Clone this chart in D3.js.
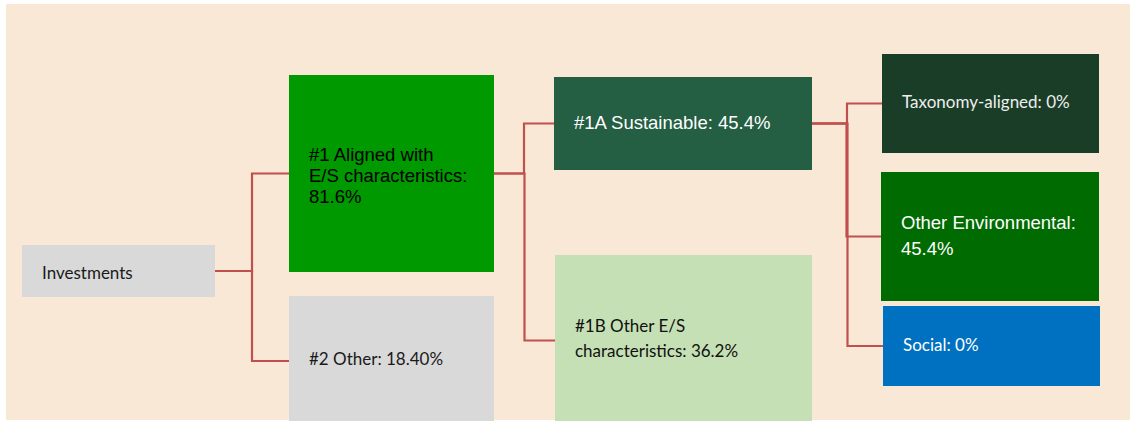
<!DOCTYPE html>
<html>
<head>
<meta charset="utf-8">
<script src="https://cdn.jsdelivr.net/npm/d3@7"></script>
<style>
  body { margin: 0; background: #ffffff; }
</style>
</head>
<body>
<div id="chart"></div>
<script>
// tree data: ids, parents and the label lines shown in each box
const nodeIds = ["inv", "n1", "n2", "n1a", "n1b", "tax", "env", "soc"];
const parentIds = [null, "inv", "inv", "n1", "n1", "n1a", "n1a", "n1a"];
const nodeLabels = [
    ["Investments"],
    ["#1 Aligned with", "E/S characteristics:", "81.6%"],
    ["#2 Other: 18.40%"],
    ["#1A Sustainable: 45.4%"],
    ["#1B Other E/S", "characteristics: 36.2%"],
    ["Taxonomy-aligned: 0%"],
    ["Other Environmental:", "45.4%"],
    ["Social: 0%"]
];

// box geometry and look (layout only)
const box = {
    inv: {x: 22,  y: 245, w: 193, h: 52,  fill: "#d9d9d9", text: "#1a1a1a", font: "calibri", ty: 279, lh: 0},
    n1:  {x: 289, y: 75,  w: 205, h: 197, fill: "#009900", text: "#000000", font: "arial",   ty: 161, lh: 21},
    n2:  {x: 289, y: 296, w: 205, h: 130, fill: "#d9d9d9", text: "#1a1a1a", font: "calibri", ty: 365, lh: 0},
    n1a: {x: 554, y: 77,  w: 258, h: 93,  fill: "#245e43", text: "#ffffff", font: "arial",   ty: 129, lh: 0},
    n1b: {x: 555, y: 255, w: 257, h: 171, fill: "#c5e0b4", text: "#111111", font: "calibri", ty: 332, lh: 25},
    tax: {x: 882, y: 54,  w: 217, h: 99,  fill: "#1a3d28", text: "#eeeeee", font: "calibri", ty: 108, lh: 0},
    env: {x: 881, y: 172, w: 218, h: 129, fill: "#006b00", text: "#ffffff", font: "arial",   ty: 229, lh: 26},
    soc: {x: 883, y: 306, w: 217, h: 80,  fill: "#0070c0", text: "#ffffff", font: "calibri", ty: 351, lh: 0}
};
const fonts = {
    arial:   {family: "'Liberation Sans', Arial, sans-serif", size: "18.5px"},
    calibri: {family: "Lato, 'Open Sans', sans-serif", size: "17px"}
};

const W = 1136, H = 421;

const svg = d3.select("#chart")
    .append("svg")
        .attr("width", W)
        .attr("height", H);

// peach panel
svg.append("rect")
    .attr("x", 6)
    .attr("y", 4)
    .attr("width", 1124)
    .attr("height", 416)
    .attr("fill", "#fae8d7");

const table = nodeIds.map((id, i) => ({id: id, parent: parentIds[i], lines: nodeLabels[i]}));
const root = d3.stratify()
    .id(d => d.id)
    .parentId(d => d.parent)(table);

// elbow connectors: parent right-middle -> junction -> child left-middle
const elbow = function(l) {
    const s = box[l.source.id], t = box[l.target.id];
    const x0 = s.x + s.w, y0 = s.y + s.h / 2;
    const x1 = t.x, y1 = t.y + t.h / 2;
    const xm = (x0 + x1) / 2;
    const p = d3.path();
    p.moveTo(x0, y0);
    p.lineTo(xm, y0);
    p.lineTo(xm, y1);
    p.lineTo(x1, y1);
    return p.toString();
};

svg.selectAll(".link")
    .data(root.links())
    .join("path")
    .attr("class", "link")
    .attr("d", elbow)
    .attr("fill", "none")
    .attr("stroke", "#c0504d")
    .attr("stroke-width", 2.2);

const nodes = svg.selectAll(".node")
    .data(root.descendants())
    .join("g")
    .attr("class", "node");

nodes.append("rect")
    .attr("x", d => box[d.id].x)
    .attr("y", d => box[d.id].y)
    .attr("width", d => box[d.id].w)
    .attr("height", d => box[d.id].h)
    .attr("fill", d => box[d.id].fill);

nodes.each(function(d) {
    const b = box[d.id], f = fonts[b.font];
    const t = d3.select(this).append("text")
        .attr("font-family", f.family)
        .style("font-size", f.size)
        .attr("fill", b.text);
    d.data.lines.forEach(function(line, i) {
        t.append("tspan")
            .attr("x", b.x + 20)
            .attr("y", b.ty + i * b.lh)
            .text(line);
    });
});
</script>
</body>
</html>
